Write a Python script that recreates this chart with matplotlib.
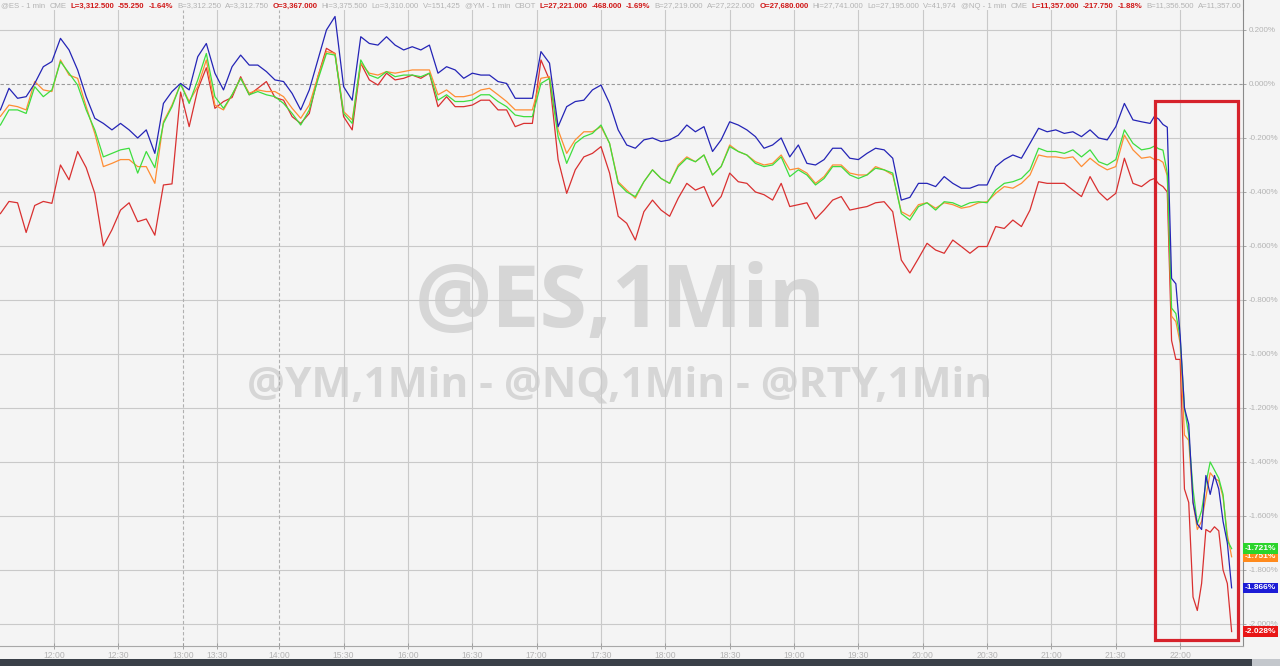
import numpy as np
import matplotlib
matplotlib.use("Agg")
import matplotlib.pyplot as plt
from matplotlib.patches import Rectangle
from matplotlib.lines import Line2D
from matplotlib.transforms import Bbox, TransformedBbox

W, H = 1280, 666

# 1-min bar index on the session axis (breaks removed)
bars = np.concatenate([np.arange(0, 537, 4), np.arange(538, 575, 2)])

# % change series
nq = [-0.096, -0.016, -0.053, -0.047, 0.002, 0.064, 0.083, 0.169, 0.126, 0.052, -0.047, -0.127, -0.146, -0.17, -0.146, -0.17, -0.2, -0.17, -0.257, -0.072, -0.028, 0.002, -0.022, 0.101, 0.15, 0.04, -0.022, 0.064, 0.107, 0.07, 0.07, 0.046, 0.015,
      0.009, -0.035, -0.096, -0.022, 0.089, 0.2, 0.25, -0.01, -0.06, 0.175, 0.15, 0.144, 0.175, 0.144, 0.126, 0.138, 0.126, 0.144, 0.04, 0.064, 0.052, 0.021, 0.04, 0.033, 0.033, 0.009, 0.002, -0.053, -0.053, -0.053, 0.12, 0.077, -0.158, -0.084,
      -0.065, -0.06, -0.022, -0.004, -0.072, -0.17, -0.226, -0.238, -0.207, -0.2, -0.213, -0.207, -0.19, -0.152, -0.177, -0.158, -0.25, -0.207, -0.14, -0.152, -0.17, -0.195, -0.238, -0.226, -0.2, -0.27, -0.226, -0.294, -0.3, -0.28, -0.238, -0.238, -0.275, -0.28,
      -0.257, -0.238, -0.244, -0.275, -0.43, -0.42, -0.368, -0.368, -0.38, -0.343, -0.368, -0.386, -0.386, -0.374, -0.374, -0.306, -0.28, -0.263, -0.275, -0.22, -0.164, -0.177, -0.17, -0.183, -0.177, -0.195, -0.17, -0.2, -0.207, -0.158, -0.072, -0.133, -0.14, -0.146,
      -0.12, -0.13, -0.15, -0.16, -0.72, -0.74, -0.93, -1.2, -1.26, -1.55, -1.63, -1.65, -1.45, -1.52, -1.45, -1.5, -1.62, -1.70, -1.866]

es = [-0.152, -0.096, -0.096, -0.109, -0.01, -0.047, -0.022, 0.083, 0.04, -0.004, -0.096, -0.17, -0.27, -0.257, -0.244, -0.238, -0.33, -0.25, -0.31, -0.146, -0.084, 0.0, -0.072, 0.015, 0.113, -0.047, -0.09, -0.04, 0.021, -0.04, -0.028, -0.04, -0.047,
      -0.072, -0.109, -0.152, -0.096, 0.015, 0.113, 0.107, -0.109, -0.146, 0.089, 0.033, 0.021, 0.046, 0.027, 0.033, 0.033, 0.027, 0.04, -0.06, -0.04, -0.065, -0.065, -0.06, -0.04, -0.04, -0.065, -0.084, -0.115, -0.121, -0.121, 0.002, 0.021, -0.195, -0.294,
      -0.22, -0.195, -0.183, -0.152, -0.22, -0.368, -0.4, -0.417, -0.362, -0.318, -0.35, -0.368, -0.306, -0.275, -0.288, -0.263, -0.337, -0.306, -0.232, -0.25, -0.263, -0.294, -0.306, -0.3, -0.27, -0.343, -0.318, -0.337, -0.374, -0.35, -0.306, -0.306, -0.337, -0.35,
      -0.337, -0.312, -0.318, -0.33, -0.48, -0.504, -0.454, -0.44, -0.467, -0.436, -0.44, -0.454, -0.44, -0.436, -0.44, -0.393, -0.368, -0.362, -0.35, -0.318, -0.238, -0.25, -0.25, -0.257, -0.244, -0.27, -0.244, -0.288, -0.3, -0.28, -0.17, -0.22, -0.244, -0.238,
      -0.23, -0.24, -0.245, -0.33, -0.83, -0.85, -0.94, -1.2, -1.3, -1.5, -1.63, -1.58, -1.48, -1.4, -1.43, -1.46, -1.52, -1.69, -1.721]

ym = [-0.12, -0.078, -0.084, -0.096, 0.009, -0.022, -0.028, 0.089, 0.033, 0.021, -0.084, -0.183, -0.306, -0.294, -0.28, -0.28, -0.306, -0.306, -0.368, -0.14, -0.078, 0.0, -0.065, -0.01, 0.089, -0.078, -0.096, -0.04, 0.021, -0.034, -0.022, -0.028, -0.028,
      -0.047, -0.09, -0.127, -0.078, 0.027, 0.12, 0.113, -0.102, -0.133, 0.077, 0.04, 0.033, 0.046, 0.04, 0.046, 0.052, 0.052, 0.052, -0.04, -0.022, -0.047, -0.047, -0.04, -0.022, -0.016, -0.04, -0.065, -0.096, -0.096, -0.096, 0.021, 0.027, -0.17, -0.257,
      -0.207, -0.177, -0.177, -0.158, -0.22, -0.362, -0.393, -0.423, -0.362, -0.318, -0.35, -0.368, -0.3, -0.27, -0.288, -0.263, -0.337, -0.306, -0.226, -0.25, -0.263, -0.288, -0.3, -0.294, -0.263, -0.318, -0.312, -0.33, -0.368, -0.343, -0.3, -0.3, -0.33, -0.337,
      -0.337, -0.306, -0.318, -0.337, -0.473, -0.49, -0.447, -0.44, -0.46, -0.44, -0.447, -0.46, -0.454, -0.44, -0.436, -0.405, -0.38, -0.386, -0.368, -0.337, -0.263, -0.27, -0.27, -0.275, -0.27, -0.306, -0.275, -0.3, -0.318, -0.306, -0.189, -0.244, -0.275, -0.27,
      -0.28, -0.28, -0.29, -0.34, -0.86, -0.88, -0.96, -1.3, -1.32, -1.55, -1.65, -1.62, -1.53, -1.44, -1.46, -1.47, -1.53, -1.67, -1.751]

rty = [-0.48, -0.435, -0.44, -0.55, -0.45, -0.435, -0.442, -0.3, -0.355, -0.25, -0.31, -0.405, -0.6, -0.54, -0.467, -0.44, -0.51, -0.5, -0.56, -0.374, -0.37, -0.03, -0.158, -0.02, 0.06, -0.09, -0.065, -0.05, 0.027, -0.04, -0.016, 0.009, -0.05,
       -0.06, -0.121, -0.146, -0.109, 0.027, 0.132, 0.113, -0.121, -0.17, 0.077, 0.015, -0.004, 0.04, 0.015, 0.021, 0.033, 0.021, 0.04, -0.084, -0.047, -0.084, -0.084, -0.078, -0.06, -0.06, -0.096, -0.096, -0.158, -0.146, -0.146, 0.089, 0.015, -0.28, -0.405,
       -0.318, -0.27, -0.257, -0.232, -0.33, -0.49, -0.516, -0.578, -0.473, -0.43, -0.467, -0.49, -0.423, -0.368, -0.393, -0.38, -0.454, -0.417, -0.33, -0.362, -0.368, -0.4, -0.41, -0.43, -0.368, -0.454, -0.447, -0.44, -0.5, -0.467, -0.43, -0.417, -0.467, -0.46,
       -0.454, -0.44, -0.436, -0.473, -0.652, -0.7, -0.646, -0.59, -0.615, -0.627, -0.578, -0.602, -0.627, -0.602, -0.602, -0.528, -0.535, -0.504, -0.528, -0.467, -0.362, -0.368, -0.368, -0.368, -0.393, -0.417, -0.343, -0.4, -0.43, -0.405, -0.275, -0.368, -0.38, -0.356,
       -0.35, -0.37, -0.38, -0.4, -0.95, -1.02, -1.02, -1.5, -1.55, -1.9, -1.95, -1.85, -1.65, -1.66, -1.64, -1.655, -1.8, -1.85, -2.028]

tick_bars = [25, 55, 85, 101, 130, 160, 190, 220, 250, 280, 310, 340, 370, 400, 430, 460, 490, 520, 550]
tick_labels = ["12:00", "12:30", "13:00", "13:30", "14:00", "15:30", "16:00", "16:30", "17:00", "17:30",
               "18:00", "18:30", "19:00", "19:30", "20:00", "20:30", "21:00", "21:30", "22:00"]
session_breaks = ["13:00", "14:00"]
y_ticks = np.arange(-2.0, 0.201, 0.2)

series = [("RTY", rty, "#d93030", "#e81616"),
          ("YM", ym, "#ff8d33", "#ff8a1c"),
          ("ES", es, "#3ede3e", "#2bd42b"),
          ("NQ", nq, "#2424b6", "#1c1cd6")]

# quote header fields (text, highlighted?)
header_fields = [
    ("@ES - 1 min", 0), ("CME", 0), ("L=3,312.500", 1), ("-55.250", 1), ("-1.64%", 1),
    ("B=3,312.250", 0), ("A=3,312.750", 0), ("O=3,367.000", 1), ("Hi=3,375.500", 0),
    ("Lo=3,310.000", 0), ("V=151,425", 0),
    ("@YM - 1 min", 0), ("CBOT", 0), ("L=27,221.000", 1), ("-468.000", 1), ("-1.69%", 1),
    ("B=27,219.000", 0), ("A=27,222.000", 0), ("O=27,680.000", 1), ("Hi=27,741.000", 0),
    ("Lo=27,195.000", 0), ("V=41,974", 0),
    ("@NQ - 1 min", 0), ("CME", 0), ("L=11,357.000", 1), ("-217.750", 1), ("-1.88%", 1),
    ("B=11,356.500", 0), ("A=11,357.000", 0),
]

# highlight box around the sell-off (bars / %)
box_x = (538.3, 577.0)
box_y = (-2.059, -0.063)

bg = "#f4f4f4"
fig = plt.figure(figsize=(W / 100, H / 100), dpi=100, facecolor=bg)
ax = fig.add_axes([0, 20 / H, 1243 / W, 636 / H], facecolor=bg)
ax.set_xlim(-0.19, 579.3)
ax.set_ylim(-2.0815, 0.274)

for v in y_ticks:
    if abs(v) < 1e-9:
        ax.axhline(0, color="#9a9a9a", lw=0.8, ls=(0, (3, 2)), zorder=1)
    else:
        ax.axhline(v, color="#c9c9c9", lw=0.8, zorder=1)
for b, lab in zip(tick_bars, tick_labels):
    if lab in session_breaks:
        ax.axvline(b, color="#b0b0b0", lw=0.8, ls=(0, (3, 2)), zorder=1)
    else:
        ax.axvline(b, color="#c9c9c9", lw=0.8, zorder=1)

# watermark
ax.text(620 / 1243, (646 - 304) / 636, "@ES,1Min", transform=ax.transAxes,
        ha="center", va="center", fontsize=62, fontweight="bold",
        family="Open Sans", color="#d6d6d6", zorder=0.5)
ax.text(620 / 1243, (646 - 386) / 636, "@YM,1Min - @NQ,1Min - @RTY,1Min",
        transform=ax.transAxes, ha="center", va="center", fontsize=30.5,
        fontweight="bold", family="Open Sans", color="#d6d6d6", zorder=0.5)

for name, vals, c, _ in series:
    ax.plot(bars, vals, color=c, lw=0.9, zorder=3)

ax.add_patch(Rectangle((box_x[0], box_y[0]), box_x[1] - box_x[0], box_y[1] - box_y[0],
                       fill=False, edgecolor="#d6222b", lw=2.3, zorder=6, clip_on=False))

# last-value tags on the right axis
for name, vals, c, tagc in series:
    ax.text(1.0015, vals[-1], f"{vals[-1]:.3f}%", transform=ax.get_yaxis_transform(),
            ha="left", va="center", fontsize=6.0, fontweight="bold", color="white",
            family="Liberation Sans", clip_on=False, zorder=8,
            bbox=dict(boxstyle="square,pad=0.2", fc=tagc, ec="none"))

ax.set_xticks(tick_bars)
ax.set_xticklabels(tick_labels)
ax.yaxis.tick_right()
ax.set_yticks(y_ticks)
ax.set_yticklabels([f"{0 if abs(v) < 1e-9 else v:.3f}%" for v in y_ticks])
ax.tick_params(axis="x", direction="inout", length=5, width=0.6, color="#999999",
               labelsize=6.2, labelcolor="#b3b3b3", pad=1)
ax.tick_params(axis="y", direction="out", length=2.5, width=0.6, color="#999999",
               labelsize=5.8, labelcolor="#b3b3b3", pad=1.5)
for lab in ax.get_xticklabels() + ax.get_yticklabels():
    lab.set_family("Liberation Sans")
for s in ["top", "left"]:
    ax.spines[s].set_visible(False)
ax.spines["bottom"].set_color("#a8a8a8")
ax.spines["right"].set_color("#8a8a8a")
ax.spines["bottom"].set_linewidth(0.8)
ax.spines["right"].set_linewidth(0.8)
fig.add_artist(Line2D([1243 / W, 1243 / W], [1 - 10 / H, 1], transform=fig.transFigure,
                      color="#8a8a8a", lw=0.8))

# quote header, laid out left to right and clipped at the price axis
gray, red = "#b3b3b3", "#d01818"
renderer = fig.canvas.get_renderer()
clip = TransformedBbox(Bbox([[0, 0], [1241 / W, 1]]), fig.transFigure)
texts = []
for txt, hi in header_fields:
    t = fig.text(0, 1 - 6 / H, txt, ha="left", va="center", fontsize=5.6,
                 color=red if hi else gray, family="Liberation Sans",
                 fontweight="bold" if hi else "normal")
    t.set_clip_box(clip)
    t.set_clip_on(True)
    texts.append(t)
widths = [t.get_window_extent(renderer).width for t in texts]
gap = max(4.0, (459.0 - sum(widths[:11])) / 11)   # first quote block spans ~459 px
x = 1.0
for t, w in zip(texts, widths):
    t.set_x(x / W)
    x += w + gap

# bottom scroll strip
fig.patches.append(Rectangle((0, 0), 1, 7 / H, transform=fig.transFigure,
                             fc="#3a4048", ec="none", zorder=10))
fig.patches.append(Rectangle((1252 / W, 0), 28 / W, 7 / H, transform=fig.transFigure,
                             fc="#c3c7cc", ec="none", zorder=11))

fig.savefig("out.png", dpi=100, facecolor=bg)
